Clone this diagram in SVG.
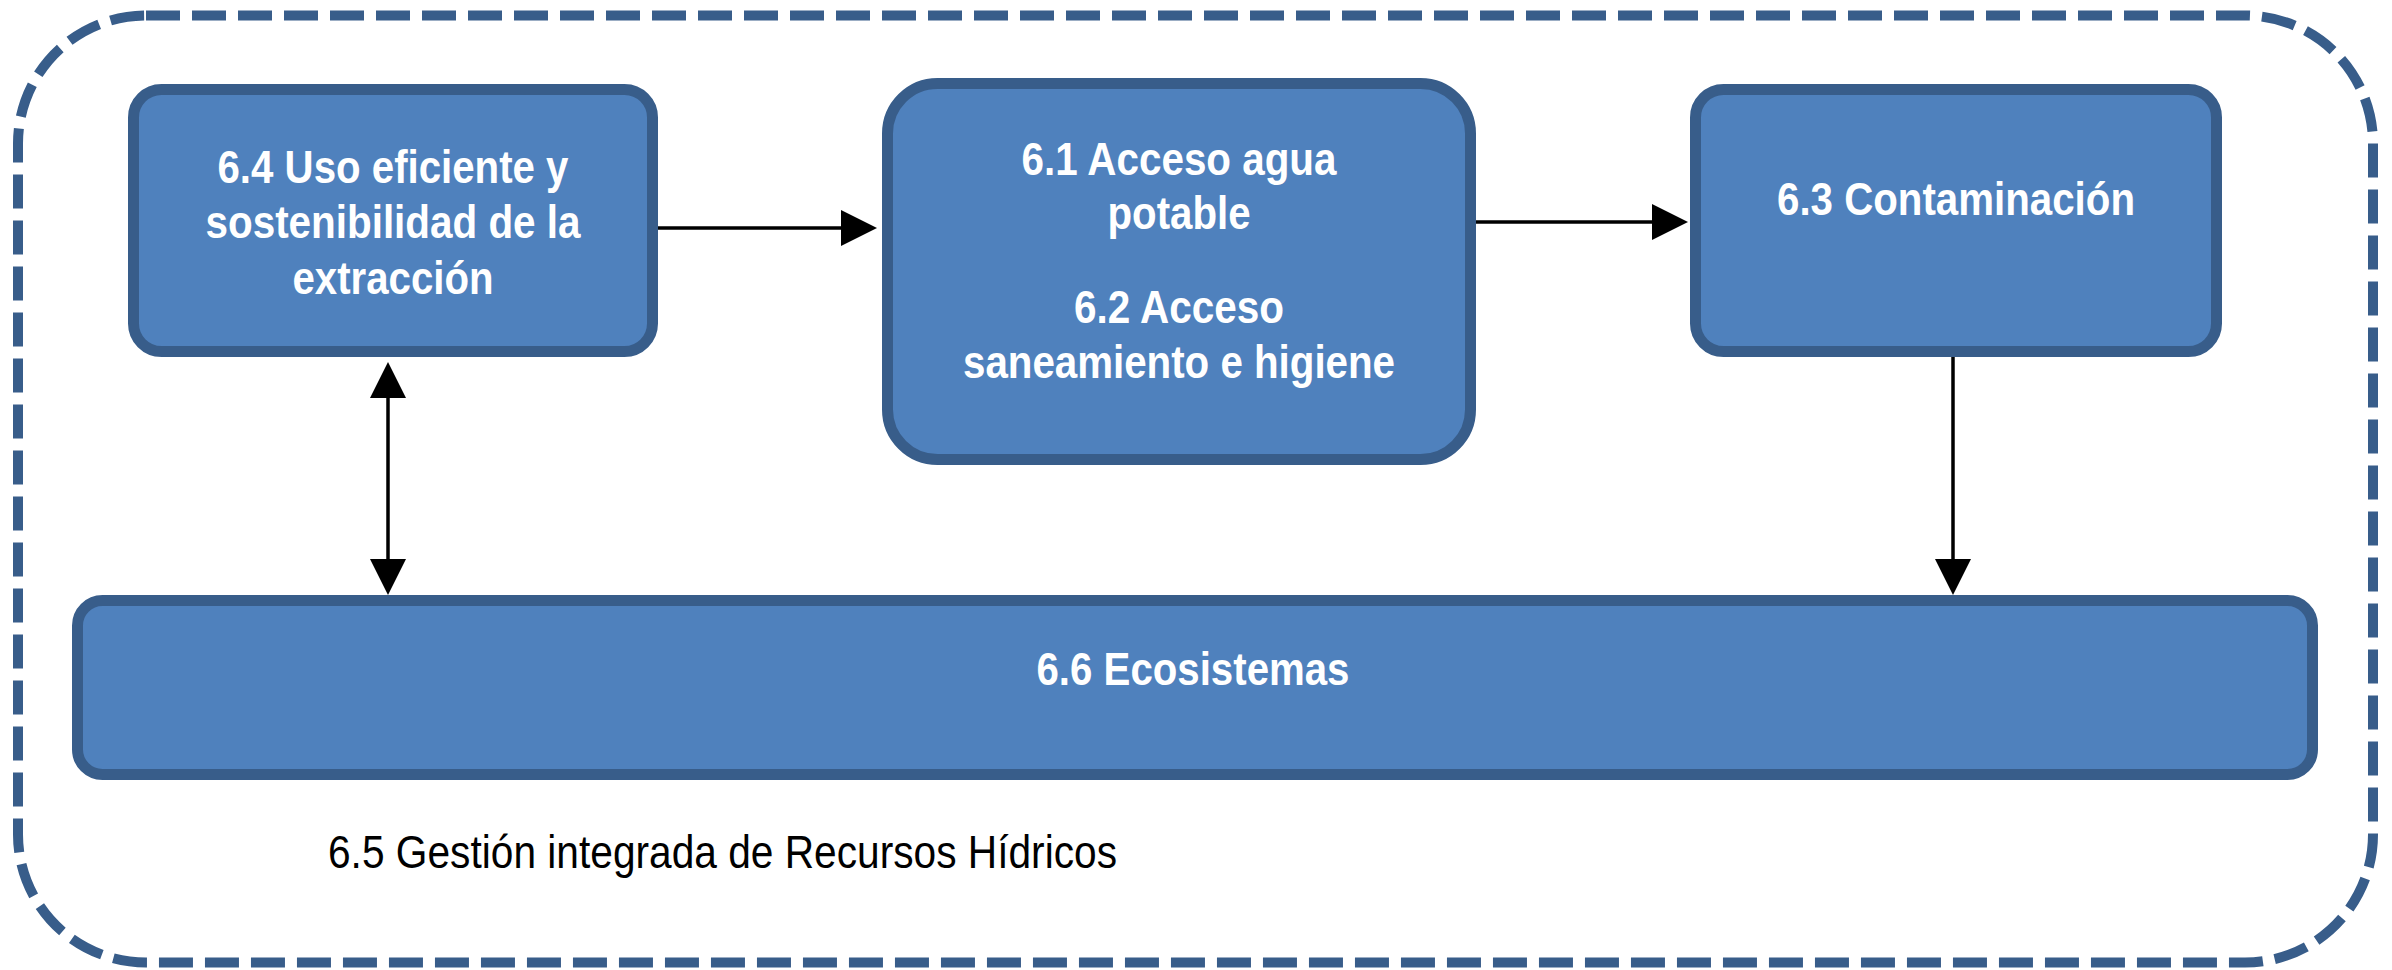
<svg xmlns="http://www.w3.org/2000/svg" width="2392" height="970" viewBox="0 0 2392 970">
<defs>
<style>
.node{fill:#4F81BD;stroke:#385D8A;stroke-width:11}
.lbl{font-family:"Liberation Sans",Arial,sans-serif;font-weight:bold;font-size:46px;fill:#FFFFFF;text-anchor:middle}
.conn{stroke:#000000;stroke-width:3.5;fill:none}
.frame{fill:none;stroke:#385D8A;stroke-width:10;stroke-dasharray:34 12}
.plain{font-family:"Liberation Sans",Arial,sans-serif;font-size:46px;fill:#000000}
</style>
<marker id="ah" markerUnits="userSpaceOnUse" markerWidth="36" markerHeight="36" refX="28" refY="18" orient="auto-start-reverse" viewBox="0 0 36 36">
<path d="M0,0 L36,18 L0,36 z" fill="#000000"/>
</marker>
</defs>
<rect width="2392" height="970" fill="#FFFFFF"/>
<g id="frame-6-5">
<rect class="frame" x="18" y="15.5" width="2355" height="947" rx="128" ry="128"/>
<text class="plain" x="328" y="868" textLength="789" lengthAdjust="spacingAndGlyphs">6.5 Gestión integrada de Recursos Hídricos</text>
</g>
<g id="connectors">
<line class="conn" x1="658" y1="228" x2="869" y2="228" marker-end="url(#ah)"/>
<line class="conn" x1="1476" y1="222" x2="1680" y2="222" marker-end="url(#ah)"/>
<line class="conn" x1="388" y1="370" x2="388" y2="587" marker-start="url(#ah)" marker-end="url(#ah)"/>
<line class="conn" x1="1953" y1="357" x2="1953" y2="587" marker-end="url(#ah)"/>
</g>
<g id="node-6-4">
<rect class="node" x="133.5" y="89.5" width="519" height="262" rx="28" ry="28"/>
<text class="lbl" x="393" y="183" textLength="351" lengthAdjust="spacingAndGlyphs">6.4 Uso eficiente y</text>
<text class="lbl" x="393" y="238" textLength="375" lengthAdjust="spacingAndGlyphs">sostenibilidad de la</text>
<text class="lbl" x="393" y="294" textLength="201" lengthAdjust="spacingAndGlyphs">extracción</text>
</g>
<g id="node-6-1-6-2">
<rect class="node" x="887.5" y="83.5" width="583" height="376" rx="50" ry="50"/>
<text class="lbl" x="1179" y="175" textLength="315" lengthAdjust="spacingAndGlyphs">6.1 Acceso agua</text>
<text class="lbl" x="1179" y="229" textLength="143" lengthAdjust="spacingAndGlyphs">potable</text>
<text class="lbl" x="1179" y="323" textLength="210" lengthAdjust="spacingAndGlyphs">6.2 Acceso</text>
<text class="lbl" x="1179" y="378" textLength="432" lengthAdjust="spacingAndGlyphs">saneamiento e higiene</text>
</g>
<g id="node-6-3">
<rect class="node" x="1695.5" y="89.5" width="521" height="262" rx="28" ry="28"/>
<text class="lbl" x="1956" y="215" textLength="358" lengthAdjust="spacingAndGlyphs">6.3 Contaminación</text>
</g>
<g id="node-6-6">
<rect class="node" x="77.5" y="600.5" width="2235" height="174" rx="25" ry="25"/>
<text class="lbl" x="1193" y="685" textLength="313" lengthAdjust="spacingAndGlyphs">6.6 Ecosistemas</text>
</g>
</svg>
